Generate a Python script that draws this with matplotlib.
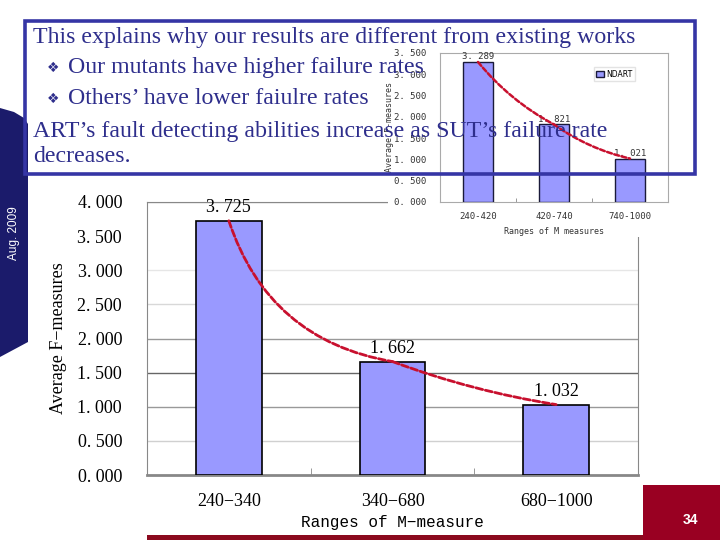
import matplotlib

matplotlib.use("Agg")
from matplotlib import pyplot as plt
from matplotlib.patches import Polygon, Rectangle
from matplotlib.ticker import FixedLocator, FuncFormatter, MultipleLocator
import numpy as np

# main chart data
categories = ["240−340", "340−680", "680−1000"]
f_measures = [3.725, 1.662, 1.032]

# old chart pasted in the upper right corner
inset_categories = ["240-420", "420-740", "740-1000"]
inset_values = [3.289, 1.821, 1.021]
inset_series = "NDART"

headline = "This explains why our results are different from existing works"
bullets = ["Our mutants have higher failure rates", "Others’ have lower faiulre rates"]
conclusion = ["ART’s fault detecting abilities increase as SUT’s failure rate", "decreases."]
date_text = "Aug. 2009"
page_no = "34"

SERIF = "Liberation Serif"
BAR = "#9999FF"
CURVE = "#C8102E"
NAVY = "#1B1B6B"
TEXT_BLUE = "#2E2E8C"
DARK_RED = "#990022"

W, H = 720, 540


def fig_rect(x0, y0, x1, y1):
    """Pixel box (top-left origin) to figure fraction."""
    return [x0 / W, 1 - y1 / H, (x1 - x0) / W, (y1 - y0) / H]


def dotted_fmt(v, _):
    return f"{v:.3f}".replace(".", ". ")


fig = plt.figure(figsize=(7.2, 5.4), dpi=100)

# --- main bar chart ---
ax = fig.add_axes(fig_rect(147, 202, 638, 475), zorder=1)
x = np.arange(len(categories))
ax.bar(x, f_measures, width=0.4, color=BAR, edgecolor="black", lw=1.2, zorder=3)
ax.set_xlim(-0.5, 2.5)
ax.set_ylim(0, 4)
ax.yaxis.set_major_locator(MultipleLocator(0.5))
ax.yaxis.set_major_formatter(FuncFormatter(dotted_fmt))
ax.set_xticks(x, categories)
ax.xaxis.set_minor_locator(FixedLocator([0.5, 1.5]))
ax.tick_params(axis="x", which="major", length=0, pad=13, labelsize=13)
ax.tick_params(axis="x", which="minor", length=5, direction="in", color="#888888")
ax.tick_params(axis="y", length=0, pad=18, labelsize=13)
for lab in ax.get_xticklabels() + ax.get_yticklabels():
    lab.set_family(SERIF)

ax.yaxis.grid(True, lw=1, zorder=0)
grid_shades = ["#ffffff", "#e6e6e6", "#d0d0d0", "#999999", "#666666", "#999999", "#d8d8d8", "#e6e6e6", "#ffffff"]
for line, shade in zip(ax.yaxis.get_gridlines(), grid_shades):
    line.set_color(shade)
for side in ["left", "right", "top"]:
    ax.spines[side].set_color("#888888")
ax.spines["bottom"].set_color("#888888")
ax.spines["bottom"].set_linewidth(2)

for xi, v in zip(x, f_measures):
    ax.text(xi, v + 0.07, dotted_fmt(v, None), ha="center", va="bottom", fontsize=13, family=SERIF)

# hand-drawn trend curve over the bar tops
for i, rad in enumerate([0.3, 0.05]):
    ax.annotate(
        "",
        xy=(x[i + 1], f_measures[i + 1]),
        xytext=(x[i], f_measures[i]),
        arrowprops=dict(
            arrowstyle="-",
            connectionstyle=f"arc3,rad={rad}",
            color=CURVE,
            lw=2,
            linestyle=(0, (2.5, 1)),
            shrinkA=0,
            shrinkB=0,
        ),
        zorder=4,
    )

ax.set_ylabel("Average F−measures", fontsize=13, family=SERIF)
ax.yaxis.set_label_coords(-0.163, 0.5)
ax.set_xlabel("Ranges of M−measure", fontsize=11.5, family="Liberation Mono")
ax.xaxis.set_label_coords(0.5, -0.148)

# --- white background of the pasted picture ---
fig.add_artist(Rectangle((388 / W, 1 - 237 / H), 302 / W, 217 / H, transform=fig.transFigure,
                         facecolor="white", edgecolor="none", zorder=1.5))

# --- small pasted chart ---
ins = fig.add_axes(fig_rect(440, 53, 668, 202), zorder=2)
xi_ = np.arange(len(inset_categories))
ins.bar(xi_, inset_values, width=0.4, color=BAR, edgecolor="#1a1a3a", lw=1, zorder=3, label=inset_series)
ins.set_xlim(-0.5, 2.5)
ins.set_ylim(0, 3.5)
ins.yaxis.set_major_locator(MultipleLocator(0.5))
ins.yaxis.set_major_formatter(FuncFormatter(dotted_fmt))
ins.set_xticks(xi_, inset_categories)
ins.xaxis.set_minor_locator(FixedLocator([0.5, 1.5]))
ins.tick_params(axis="x", which="major", length=0, pad=7, labelsize=6.5, labelcolor="#333333")
ins.tick_params(axis="x", which="minor", length=3, direction="in", color="#888888")
ins.tick_params(axis="y", length=0, pad=10, labelsize=6.5, labelcolor="#333333")
for lab in ins.get_xticklabels() + ins.get_yticklabels():
    lab.set_family("DejaVu Sans Mono")
ins.set_yticks([0.5, 1.5, 2.5], minor=True)
ins.yaxis.grid(True, which="minor", color="#aaaaaa", lw=0.8, zorder=0)
for spine in ins.spines.values():
    spine.set_color("#aaaaaa")
for xv, v in zip(xi_, inset_values):
    ins.text(xv, v + 0.02, dotted_fmt(v, None), ha="center", va="bottom", fontsize=6.5,
             family="DejaVu Sans Mono", color="#333333")
for i in range(len(inset_values) - 1):
    ins.annotate(
        "",
        xy=(xi_[i + 1], inset_values[i + 1]),
        xytext=(xi_[i], inset_values[i]),
        arrowprops=dict(arrowstyle="-", connectionstyle="arc3,rad=0.1", color=CURVE, lw=1.8,
                        linestyle=(0, (2, 1)), shrinkA=0, shrinkB=0),
        zorder=4,
    )
ins.set_ylabel("Average F-measures", fontsize=6, family="DejaVu Sans Mono", color="#333333")
ins.yaxis.set_label_coords(-0.2, 0.5)
ins.set_xlabel("Ranges of M measures", fontsize=6, family="DejaVu Sans Mono", color="#333333")
ins.xaxis.set_label_coords(0.5, -0.17)
ins.legend(loc="upper right", bbox_to_anchor=(0.87, 0.93), fontsize=5.5, frameon=True, fancybox=False,
           edgecolor="#dddddd", handlelength=1, handleheight=0.8, borderpad=0.3, handletextpad=0.3)

# --- slide decorations and text box ---
ov = fig.add_axes([0, 0, 1, 1], zorder=3)
ov.set_xlim(0, W)
ov.set_ylim(H, 0)
ov.axis("off")

ov.add_patch(Polygon([(0, 108), (14, 112), (24, 118), (28, 124), (28, 342), (0, 357)],
                     closed=True, facecolor=NAVY, edgecolor="none"))
ov.text(14, 233, date_text, rotation=90, ha="center", va="center", color="white", fontsize=8.5,
        family="Liberation Sans")
ov.add_patch(Rectangle((147, 535), W - 147, 5, facecolor="#8B0A1E", edgecolor="none"))
ov.add_patch(Rectangle((643, 485), W - 643, H - 485, facecolor=DARK_RED, edgecolor="none"))
ov.text(690, 520, page_no, ha="center", va="center", color="white", fontsize=10, fontweight="bold",
        family="Liberation Sans")

ov.add_patch(Rectangle((25, 21), 670, 153, facecolor="none", edgecolor="#3535A5", lw=2.6))
ov.text(33, 37, headline, va="center", fontsize=17.2, family=SERIF, color=TEXT_BLUE)
for k, line in enumerate(bullets):
    yy = 68 + 31 * k
    ov.text(47, yy, "❖", va="center", fontsize=10, family="DejaVu Sans", color=TEXT_BLUE)
    ov.text(68, yy, line, va="center", fontsize=17.2, family=SERIF, color=TEXT_BLUE)
for k, line in enumerate(conclusion):
    ov.text(33, 132 + 25 * k, line, va="center", fontsize=17.2, family=SERIF, color=TEXT_BLUE)

fig.savefig("out.png", dpi=100, facecolor="white")
